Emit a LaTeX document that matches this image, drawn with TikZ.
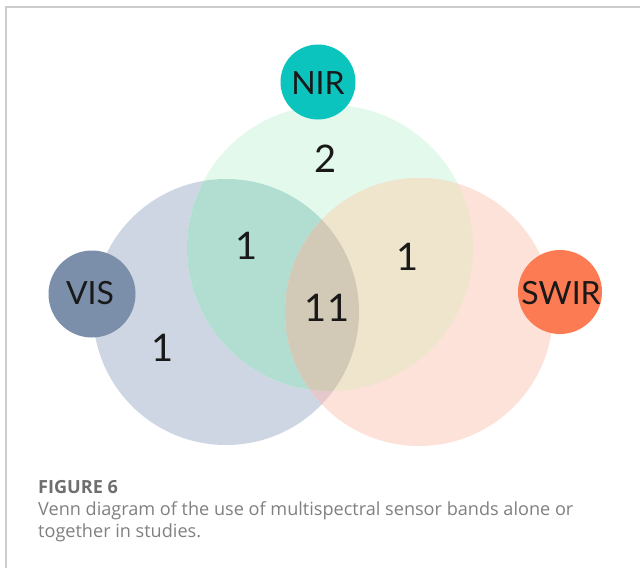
\documentclass[tikz,border=0pt]{standalone}
\usepackage{fontspec}
\setmainfont{Lato}
\newfontfamily\capfont{Open Sans}
\definecolor{cB}{RGB}{205,214,226}
\definecolor{cG}{RGB}{226,249,236}
\definecolor{cO}{RGB}{253,226,217}
\definecolor{cBG}{RGB}{178,222,210}
\definecolor{cGO}{RGB}{238,229,204}
\definecolor{cBO}{RGB}{228,200,203}
\definecolor{cAll}{RGB}{210,201,183}
\definecolor{cNIR}{RGB}{11,196,190}
\definecolor{cVIS}{RGB}{123,143,170}
\definecolor{cSWIR}{RGB}{252,123,82}
\definecolor{frame}{RGB}{204,204,204}
\definecolor{captitle}{RGB}{110,110,110}
\definecolor{captext}{RGB}{128,128,128}
\tikzset{
  labelcircle/.style={circle, inner sep=0pt, text=black!90, font=\fontsize{32}{32}\selectfont},
  count/.style={inner sep=0pt, text=black!90, font=\fontsize{38}{38}\selectfont},
  captionline/.style={anchor=base west, inner sep=0pt, text=captext, font=\capfont\fontsize{18.1}{22}\selectfont},
}
\begin{document}
\begin{tikzpicture}[x=1pt,y=-1pt]
\useasboundingbox (0,0) rectangle (640,568);
\fill[white] (0,0) rectangle (640,568);
\draw[frame, line width=1.3pt] (6,568) -- (6,7) -- (640,7);
% set centres
\coordinate (B) at (226,312);
\coordinate (G) at (330,248);
\coordinate (O) at (419,312);
% single sets
\fill[cB] (B) circle (133pt);
\fill[cG] (G) circle (143pt);
\fill[cO] (O) circle (134pt);
% pairwise overlaps
\begin{scope}
  \clip (B) circle (133pt);
  \fill[cBG] (G) circle (143pt);
  \fill[cBO] (O) circle (134pt);
\end{scope}
\begin{scope}
  \clip (G) circle (143pt);
  \fill[cGO] (O) circle (134pt);
\end{scope}
% triple overlap
\begin{scope}
  \clip (B) circle (133pt);
  \clip (G) circle (143pt);
  \fill[cAll] (O) circle (134pt);
\end{scope}
% label circles
\node[labelcircle, fill=cNIR, minimum size=75pt] (nir) at (318,82) {};
\node[labelcircle, fill=cVIS, minimum size=87pt] (vis) at (92,294) {};
\node[labelcircle, fill=cSWIR, minimum size=84pt] (swir) at (560,292) {};
\node[labelcircle] (nirt) at (318,83) {NIR};
\node[labelcircle] (vist) at (90,293) {VIS};
\node[labelcircle] (swirt) at (561,293) {SWIR};
% counts
\node[count] (n2) at (326,159) {2};
\node[count] (nbg) at (247,246) {1};
\node[count] (ngo) at (408,257) {1};
\node[count] (nall) at (327,308) {11};
\node[count] (nb) at (163,348) {1};
% caption
\node[captionline, text=captitle, font=\capfont\fontsize{18.1}{22}\selectfont\bfseries] (ft) at (38,493) {FIGURE 6};
\node[captionline] (c1) at (38,515) {Venn diagram of the use of multispectral sensor bands alone or};
\node[captionline] (c2) at (38,537) {together in studies.};
\end{tikzpicture}
\end{document}
